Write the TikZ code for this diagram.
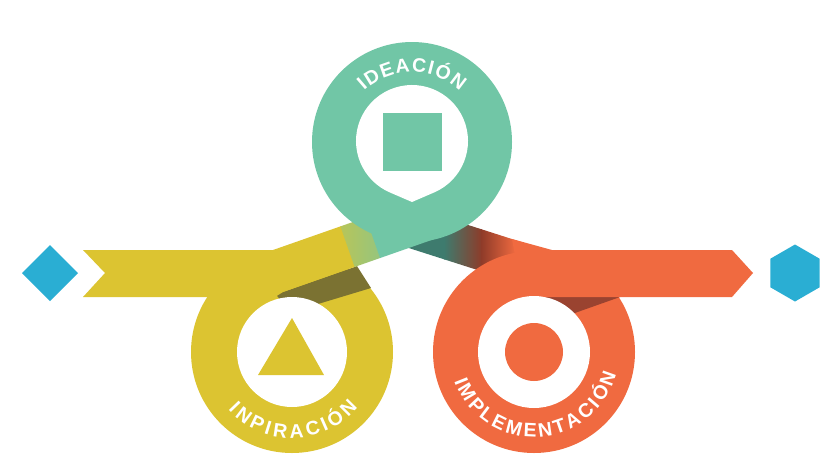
\documentclass[tikz,border=0pt]{standalone}
\usepackage{fontspec}
\setmainfont{Liberation Sans}
\usetikzlibrary{decorations.text,calc}
\definecolor{gr}{HTML}{71C6A6}
\definecolor{yel}{HTML}{DCC431}
\definecolor{org}{HTML}{F06A40}
\definecolor{blu}{HTML}{2AAED3}
\definecolor{olv}{HTML}{7B7232}
\definecolor{dorg}{HTML}{9A4330}
\definecolor{dteal}{HTML}{3E7B6E}
\definecolor{dbrown}{HTML}{8E3B29}
\newcommand\ringfont{\bfseries\fontsize{19.5}{19.5}\selectfont\color{white}}
\begin{document}
\begin{tikzpicture}[x=1pt,y=1pt,
  ringtext/.style={decorate,decoration={text along path,text align={fit to path},text={|\ringfont|#1}}}]
\useasboundingbox (0,0) rectangle (840,-475);
\fill[white] (0,0) rectangle (840,-475);
\coordinate (Y) at (292,-352);
\coordinate (G) at (412,-142);
\coordinate (O) at (534,-352);
% dark band from green to orange
\begin{scope}
  \clip (395,-201.6) -- (530,-244.8) -- (530,-286.8) -- (395,-243.6) -- cycle;
  \fill[dteal] (390,-190) rectangle (445,-300);
  \shade[left color=dteal,right color=dbrown] (444,-190) rectangle (482,-300);
  \shade[left color=dbrown,right color=org] (481,-190) rectangle (516,-300);
  \fill[org] (515,-190) rectangle (535,-300);
\end{scope}
% orange ring
\fill[org] (O) circle (101);
\fill[dorg] (545,-297) -- (620,-297) -- (572,-314) -- (545,-314) -- cycle;
\fill[white] (O) circle (56);
\fill[org] (512,-239) -- (552,-250) -- (732,-250) -- (753,-273) -- (732,-297) -- (545,-297) -- (520,-283) -- cycle;
\fill[org] (O) circle (29);
% yellow ring
\fill[yel] (Y) circle (101);
\fill[olv] (276,-294.5) -- (357,-266.1) -- (371,-288) -- (318,-304) -- (290,-312) -- cycle;
\fill[white] (Y) circle (55);
\fill[yel] (292,-318) -- (324,-375) -- (258,-375) -- cycle;
% yellow ribbon into green
\begin{scope}
  \clip (83,-250) -- (273,-250) -- (430,-195) -- (443,-236) -- (283,-292) -- (275,-297) -- (83,-297) -- (105,-273) -- cycle;
  \begin{scope}[rotate around={19.3:(360,-240)}]
    \fill[yel] (60,-400) rectangle (347,-80);
    \shade[left color=yel,right color=gr] (346,-400) rectangle (374,-80);
    \fill[gr] (373,-400) rectangle (480,-80);
  \end{scope}
\end{scope}
% green ring
\fill[gr] (G) circle (100);
\fill[white] (412,-202) -- ($(412,-141)+(-66.6:56)$) arc (-66.6:246.6:56) -- cycle;
\fill[gr] (383,-113) rectangle (442,-171);
% end markers
\fill[blu] (22,-273) -- (50,-245) -- (78,-273) -- (50,-301) -- cycle;
\fill[blu] (795,-273) +(90:28.5) -- +(150:28.5) -- +(210:28.5) -- +(270:28.5) -- +(330:28.5) -- +(30:28.5) -- cycle;
% labels
{\ringfont
\path[ringtext=IDEACIÓN] ($(G)+(133:70)$) arc (133:47:70);
\path[ringtext=INPIRACIÓN] ($(Y)+(222:86)$) arc (222:320:86);
\path[ringtext=IMPLEMENTACIÓN] ($(O)+(200:85)$) arc (200:345:85);
}
\end{tikzpicture}
\end{document}
